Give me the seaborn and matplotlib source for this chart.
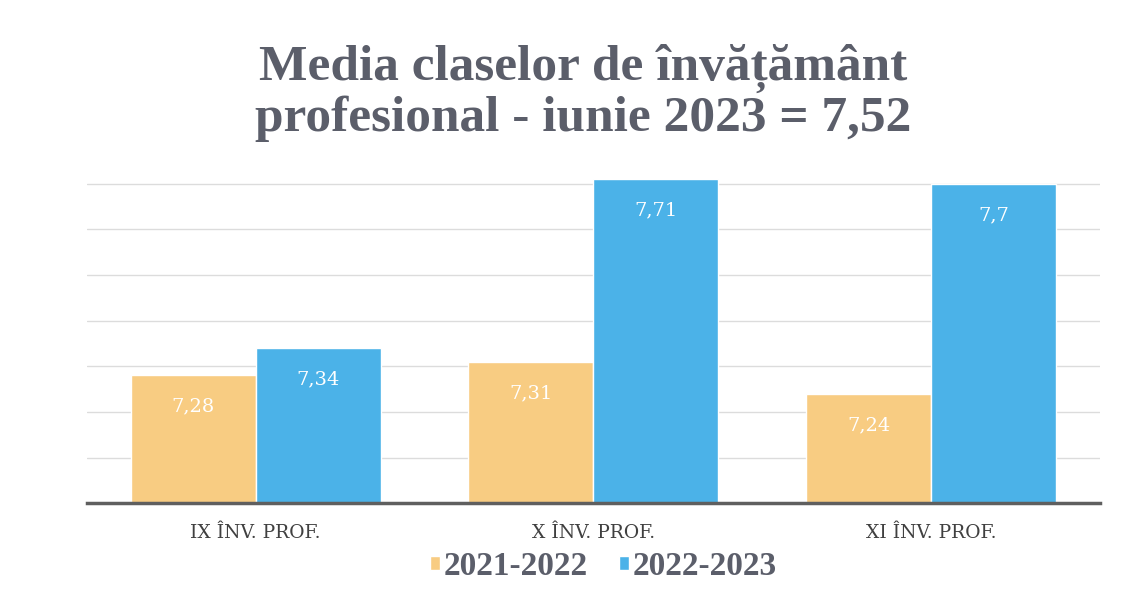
import matplotlib
matplotlib.use("Agg")
import matplotlib.pyplot as plt
import pandas as pd
import seaborn as sns

categories = ["IX ÎNV. PROF.", "X ÎNV. PROF.", "XI ÎNV. PROF."]
years = ["2021-2022", "2022-2023"]
values_2021_2022 = [7.28, 7.31, 7.24]
values_2022_2023 = [7.34, 7.71, 7.70]
value_labels = {"2021-2022": ["7,28", "7,31", "7,24"],
                "2022-2023": ["7,34", "7,71", "7,7"]}
title = "Media claselor de învățământ\nprofesional - iunie 2023 = 7,52"

df = pd.DataFrame({
    "clasa": categories * 2,
    "an": [years[0]] * 3 + [years[1]] * 3,
    "media": values_2021_2022 + values_2022_2023,
})

sns.set_theme(style="white")
plt.rcParams["font.family"] = ["Liberation Serif", "DejaVu Serif"]

palette = {"2021-2022": "#F8CC82", "2022-2023": "#4BB2E8"}
grey = "#5B5E6A"

fig = plt.figure(figsize=(11.41, 5.9), dpi=100)
ax = fig.add_axes([0.076, 0.147, 0.888, 0.619])

sns.barplot(data=df, x="clasa", y="media", hue="an", order=categories,
            hue_order=years, palette=palette, width=0.74, saturation=1,
            ax=ax, legend=True)

# axis starts at 7, grid every 0.1
ax.set_ylim(7.0, 7.8)
ax.set_yticks([7.0 + 0.1 * i for i in range(8)])
ax.set_yticklabels([])
ax.yaxis.grid(True, color="#DCDCDC", linewidth=1)
ax.set_axisbelow(True)
for s in ["top", "right", "left"]:
    ax.spines[s].set_visible(False)
ax.spines["bottom"].set_color("#5F5F5F")
ax.spines["bottom"].set_linewidth(2.5)
ax.tick_params(axis="both", length=0)
ax.tick_params(axis="x", pad=15, labelcolor="#404040")
for lbl in ax.get_xticklabels():
    lbl.set_family("DejaVu Serif")
    lbl.set_fontsize(13.5)
ax.set_xlabel("")
ax.set_ylabel("")

for cont, yr in zip(ax.containers, years):
    ax.bar_label(cont, labels=value_labels[yr], label_type="edge",
                 padding=-29, color="white", fontsize=14,
                 family="DejaVu Serif")

handles, labels = ax.get_legend_handles_labels()
ax.legend(handles, labels, loc="center", bbox_to_anchor=(0.51, -0.173),
          ncol=2, frameon=False, handlelength=0.3, handleheight=0.3,
          handletextpad=0.1, columnspacing=0.95,
          prop={"weight": "bold", "size": 24}, labelcolor=grey)

fig.text(0.511, 0.925, title, ha="center", va="top", fontsize=37,
         fontweight="bold", color=grey, linespacing=1.05)

fig.savefig("out.png", dpi=100)
